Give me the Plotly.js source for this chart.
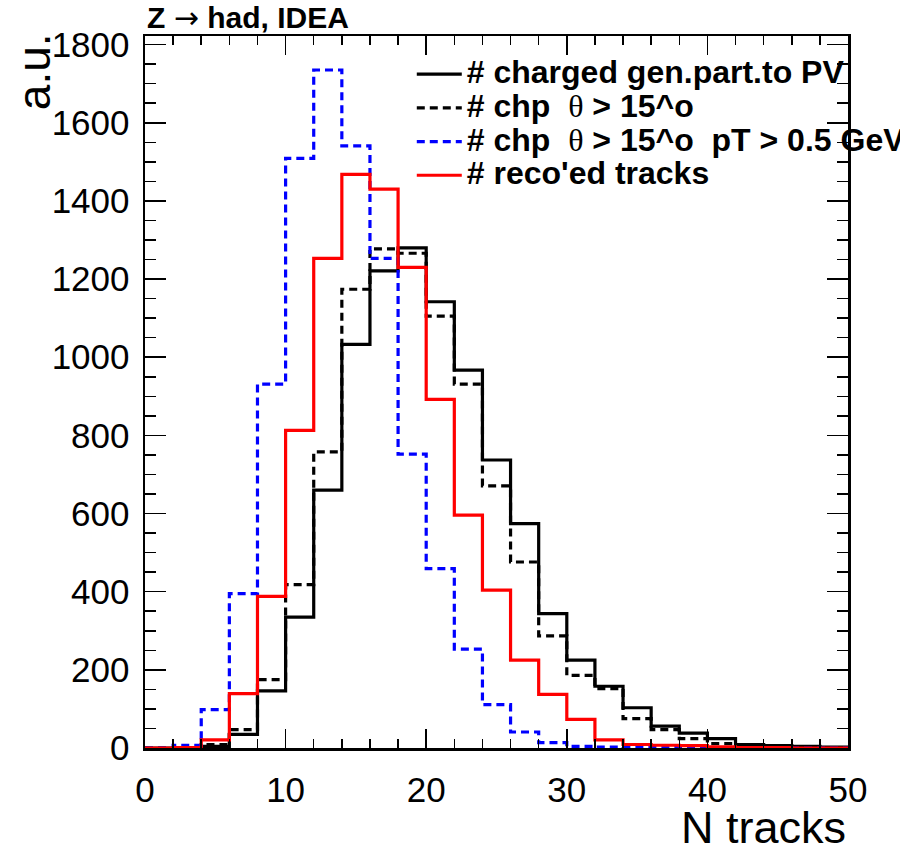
<!DOCTYPE html>
<html>
<head>
<meta charset="utf-8">
<script src="https://cdn.plot.ly/plotly-3.0.1.min.js"></script>
<style>
  html, body { margin: 0; padding: 0; background: #ffffff; }
  #chart { width: 900px; height: 853px; overflow: hidden; }
</style>
</head>
<body>
<div id="chart"></div>
<script>
// Bin edges (N tracks), bin width 2
const binEdges = [0, 2, 4, 6, 8, 10, 12, 14, 16, 18, 20, 22, 24, 26, 28, 30, 32, 34, 36, 38, 40, 42, 44, 46, 48, 50];

// Series contents per bin (a.u.)
const genCharged = [0, 1, 4, 35, 146, 335, 660, 1033, 1221, 1280, 1142, 967, 737, 574, 344, 225, 158, 103, 56, 38, 24, 9, 6, 4, 2];
const chpTheta = [0, 1, 9, 47, 175, 418, 758, 1174, 1277, 1266, 1105, 931, 671, 476, 287, 186, 152, 75, 47, 24, 11, 4, 2, 1, 1];
const chpThetaPt = [0, 7, 98, 395, 931, 1509, 1735, 1541, 1253, 752, 459, 253, 111, 41, 14, 4, 2, 1, 1, 0, 0, 0, 0, 0, 0];
const recoTracks = [0, 1, 21, 139, 388, 813, 1253, 1468, 1430, 1230, 892, 596, 404, 225, 137, 73, 21, 9, 7, 6, 3, 1, 1, 0, 0];

const THETA = '<span style="font-family:\'Liberation Serif\';font-weight:normal">θ</span>';
const legendNames = [
  '<b># charged gen.part.to PV</b>',
  '<b># chp</b>&nbsp;&nbsp;' + THETA + '<b> &gt; 15^o</b>',
  '<b># chp</b>&nbsp;&nbsp;' + THETA + '<b> &gt; 15^o&nbsp;&nbsp;pT &gt; 0.5 GeV</b>',
  '<b># reco\'ed tracks</b>'
];

function stepY(vals) { return vals.concat([vals[vals.length - 1]]); }

const FONT = 'Liberation Sans, Arial, Helvetica, sans-serif';
const LEGSPAN = (s) => '<span style="font-size:32px">' + s + '</span>';

const traces = [
  { x: binEdges, y: stepY(genCharged), name: LEGSPAN(legendNames[0]), mode: 'lines',
    line: { shape: 'hv', color: '#000000', width: 3.2 } },
  { x: binEdges, y: stepY(chpTheta), name: LEGSPAN(legendNames[1]), mode: 'lines',
    line: { shape: 'hv', color: '#000000', width: 3.2, dash: '8px,5px' } },
  { x: binEdges, y: stepY(chpThetaPt), name: LEGSPAN(legendNames[2]), mode: 'lines',
    line: { shape: 'hv', color: '#0000ff', width: 3.2, dash: '8px,5px' } },
  { x: binEdges, y: stepY(recoTracks), name: LEGSPAN(legendNames[3]), mode: 'lines',
    line: { shape: 'hv', color: '#ff0000', width: 3.2 } }
];

const layout = {
  width: 900, height: 853,
  paper_bgcolor: '#ffffff', plot_bgcolor: '#ffffff',
  margin: { l: 144.5, r: 52, t: 36, b: 105.3, pad: 0, autoexpand: false },
  font: { family: FONT, color: '#000000' },
  showlegend: true,
  legend: {
    x: 0.3795, y: 0.977, xanchor: 'left', yanchor: 'top',
    bgcolor: 'rgba(0,0,0,0)', borderwidth: 0,
    font: { family: FONT, size: 23.6, color: '#000000' },
    itemwidth: 45, tracegroupgap: 0
  },
  title: {
    text: '<b>Z</b> <span style="font-family:\'DejaVu Sans\'">→</span> <b>had, IDEA</b>',
    font: { family: FONT, size: 30, color: '#000000' },
    xref: 'paper', x: 0.003, xanchor: 'left',
    yref: 'container', y: 0.979, yanchor: 'middle'
  },
  xaxis: {
    range: [0, 50], autorange: false,
    showgrid: false, zeroline: false,
    showline: true, linecolor: '#000000', linewidth: 2.5, mirror: 'allticks',
    ticks: 'inside', ticklen: 19, tickwidth: 1.5, tickcolor: '#000000',
    tick0: 0, dtick: 10,
    minor: { ticks: 'inside', ticklen: 9, tickwidth: 1.5, tickcolor: '#000000', dtick: 2, showgrid: false },
    tickfont: { family: FONT, size: 35, color: '#000000' },
    ticklabelstandoff: 9
  },
  yaxis: {
    range: [0, 1822], autorange: false,
    showgrid: false, zeroline: false,
    showline: true, linecolor: '#000000', linewidth: 2.5, mirror: 'allticks',
    ticks: 'inside', ticklen: 21, tickwidth: 1.5, tickcolor: '#000000',
    tick0: 0, dtick: 200,
    minor: { ticks: 'inside', ticklen: 11, tickwidth: 1.5, tickcolor: '#000000', dtick: 50, showgrid: false },
    tickfont: { family: FONT, size: 35, color: '#000000' },
    ticklabelstandoff: 6
  },
  annotations: [
    { text: 'a.u.', xref: 'paper', yref: 'paper', x: -0.1585, y: 0.950,
      xanchor: 'center', yanchor: 'middle', textangle: -90, showarrow: false,
      font: { family: FONT, size: 46, color: '#000000' } },
    { text: 'N tracks', xref: 'paper', yref: 'paper', x: 1.0, y: -0.1115,
      xanchor: 'right', yanchor: 'middle', showarrow: false,
      font: { family: FONT, size: 45, color: '#000000' } }
  ]
};

Plotly.newPlot('chart', traces, layout, { displayModeBar: false, staticPlot: true });
</script>
</body>
</html>
